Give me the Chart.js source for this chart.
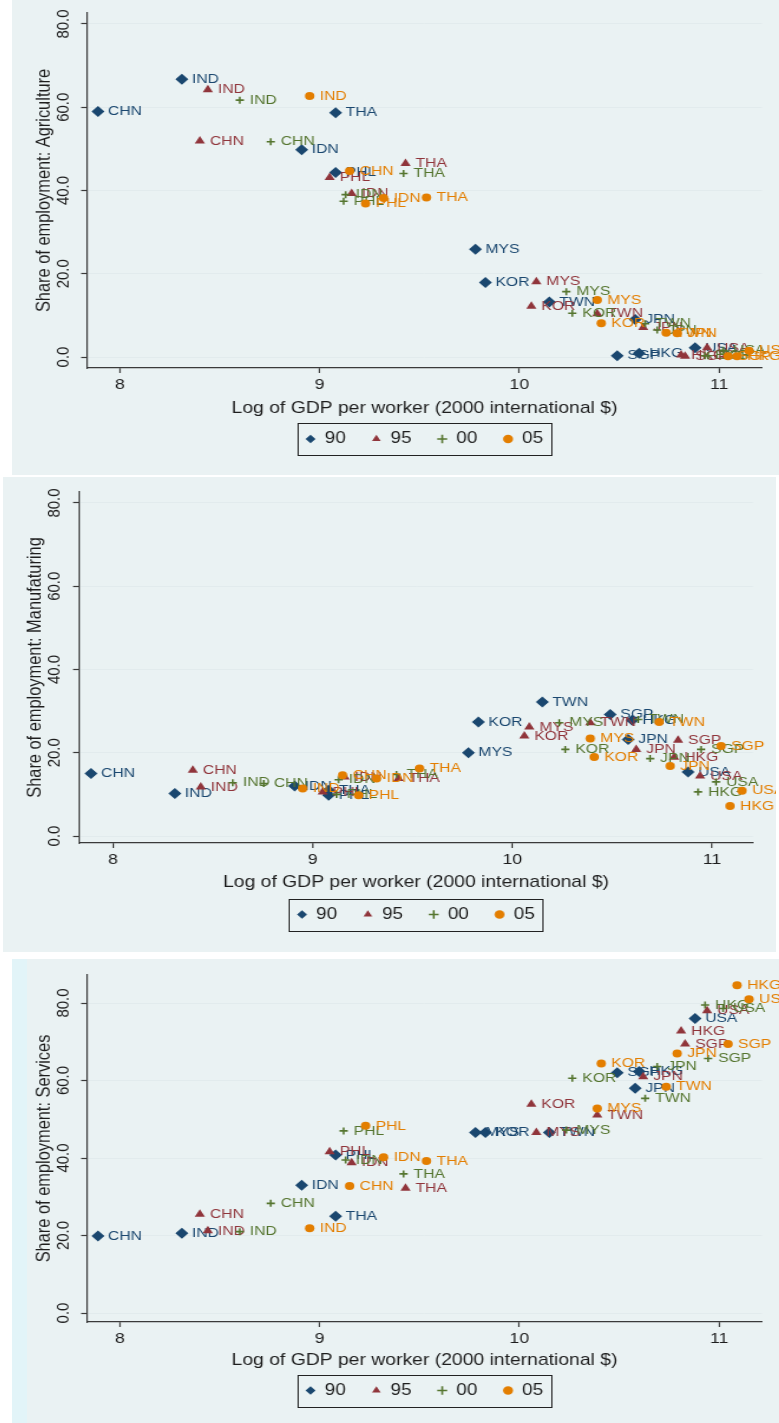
<!DOCTYPE html>
<html>
<head>
<meta charset="utf-8">
<script src="https://cdn.jsdelivr.net/npm/chart.js@4.4.1/dist/chart.umd.min.js"></script>
<style>
  html, body { margin: 0; padding: 0; background: #ffffff; }
  body { width: 779px; height: 1423px; position: relative; overflow: hidden; }
  .panel { position: absolute; background: #eaf2f3; }
  .panel canvas { position: absolute; left: 0; top: 0; }
  .strip { position: absolute; background: #e2f4f8; }
</style>
</head>
<body>
<div class="panel" id="p1"><canvas id="c1"></canvas></div>
<div class="panel" id="p2"><canvas id="c2"></canvas></div>
<div class="panel" id="p3"><div class="strip" style="left:0;top:0;width:15px;height:100%"></div><canvas id="c3"></canvas></div>

<script>
// Countries, same order in every series below
const countries = ['CHN', 'IND', 'IDN', 'PHL', 'THA', 'MYS', 'KOR', 'TWN', 'JPN', 'SGP', 'HKG', 'USA'];
const years = ['90', '95', '00', '05'];

// Log of GDP per worker (2000 international $)
const gdp90 = [7.89, 8.31, 8.91, 9.08, 9.08, 9.78, 9.83, 10.15, 10.58, 10.49, 10.60, 10.88];
const gdp95 = [8.40, 8.44, 9.16, 9.05, 9.43, 10.085, 10.06, 10.39, 10.62, 10.83, 10.81, 10.94];
const gdp00 = [8.755, 8.60, 9.13, 9.12, 9.42, 10.235, 10.265, 10.63, 10.69, 10.945, 10.93, 11.02];
const gdp05 = [9.15, 8.95, 9.32, 9.23, 9.535, 10.39, 10.41, 10.735, 10.79, 11.045, 11.09, 11.15];

// Share of employment: agriculture (%)
const agri90 = [59.0, 66.7, 49.8, 44.3, 58.7, 25.9, 17.9, 13.2, 9.0, 0.3, 0.9, 2.2];
const agri95 = [51.9, 64.2, 39.3, 43.1, 46.5, 18.1, 12.2, 10.4, 7.1, 0.2, 0.5, 2.2];
const agri00 = [51.7, 61.7, 39.0, 37.4, 44.1, 15.7, 10.5, 8.0, 6.5, 0.3, 0.3, 1.6];
const agri05 = [44.7, 62.7, 38.2, 36.9, 38.3, 13.7, 8.1, 5.8, 5.7, 0.2, 0.2, 1.5];

// Share of employment: manufacturing (%)
const manu90 = [15.0, 10.2, 12.0, 9.8, 11.0, 20.0, 27.4, 32.2, 23.2, 29.2, 27.8, 15.4];
const manu95 = [15.8, 11.8, 14.2, 10.6, 13.8, 26.2, 24.0, 27.2, 20.8, 23.0, 18.9, 14.4];
const manu00 = [12.6, 12.8, 13.5, 10.0, 14.8, 27.2, 20.8, 28.0, 18.6, 20.8, 10.6, 13.0];
const manu05 = [14.6, 11.4, 13.8, 9.8, 16.2, 23.4, 19.0, 27.4, 16.8, 21.6, 7.2, 10.9];

// Share of employment: services (%)
const serv90 = [19.9, 20.6, 33.0, 40.8, 25.0, 46.6, 46.6, 46.6, 58.0, 62.0, 62.3, 76.0];
const serv95 = [25.5, 21.2, 38.8, 41.6, 32.2, 46.6, 53.9, 51.1, 61.0, 69.4, 72.8, 78.0];
const serv00 = [28.3, 21.0, 39.5, 47.0, 35.9, 47.2, 60.6, 55.4, 63.6, 65.7, 79.5, 78.6];
const serv05 = [32.8, 21.9, 40.2, 48.3, 39.2, 52.8, 64.4, 58.4, 67.0, 69.4, 84.6, 81.0];

const xTicks = [8, 9, 10, 11];
const yTicks = [0, 20, 40, 60, 80];
const xTitle = 'Log of GDP per worker (2000 international $)';

// ---- look and layout ----
const K = 1.18;                 // panels are drawn narrow and widened by this factor
const FONT = "'Liberation Sans', Arial, Helvetica, sans-serif";
const TEXT = '#1e1e1e';
const AXIS = '#3a3a3a';
const GRID = '#e2ebed';
const TICK_SIZE = 15, TITLE_SIZE = 16.4, LABEL_SIZE = 13.3, LABEL_GAP = 8.5;
const LEG_FONT = 16, LEG_PAD = 22;

const seriesStyle = [
  { color: '#1a476f', pointStyle: 'rectRot',  radius: 5.5, border: 0,   order: 3 },
  { color: '#90353b', pointStyle: 'triangle', radius: 5,   border: 0,   order: 2 },
  { color: '#55752f', pointStyle: 'cross',    radius: 3.5, border: 1.6, order: 1 },
  { color: '#e37e00', pointStyle: 'circle',   radius: 4,   border: 0,   order: 0 }
];

Chart.defaults.font.family = FONT;
Chart.defaults.color = TEXT;

// country code written to the right of every marker
const pointLabels = {
  id: 'pointLabels',
  afterDatasetDraw(chart, args) {
    const ds = chart.data.datasets[args.index];
    const ctx = chart.ctx;
    ctx.save();
    ctx.font = LABEL_SIZE + 'px ' + FONT;
    ctx.fillStyle = ds.borderColor;
    ctx.textAlign = 'left';
    ctx.textBaseline = 'middle';
    args.meta.data.forEach((pt, j) => {
      ctx.fillText(ds.codes[j], pt.x + LABEL_GAP, pt.y);
    });
    ctx.restore();
  }
};

// vertical y tick labels (0.0 ... 80.0)
const yTickLabels = {
  id: 'yTickLabels',
  afterDraw(chart, args, opts) {
    const s = chart.scales.y;
    const ctx = chart.ctx;
    ctx.save();
    ctx.font = TICK_SIZE + 'px ' + FONT;
    ctx.fillStyle = TEXT;
    ctx.textAlign = 'center';
    ctx.textBaseline = 'middle';
    s.ticks.forEach(t => {
      ctx.save();
      ctx.translate(opts.x, s.getPixelForValue(t.value));
      ctx.rotate(-Math.PI / 2);
      ctx.fillText(t.value.toFixed(1), 0, 0);
      ctx.restore();
    });
    ctx.restore();
  }
};

// black frame around the legend keys
const legendFrame = {
  id: 'legendFrame',
  afterDraw(chart, args, opts) {
    const boxes = chart.legend && chart.legend.legendHitBoxes;
    if (!boxes || !boxes.length) return;
    const l = Math.min(...boxes.map(b => b.left)) - opts.padX;
    const r = Math.max(...boxes.map(b => b.left + b.width)) + opts.padX;
    const t = boxes[0].top - opts.padY;
    const b = boxes[0].top + boxes[0].height + opts.padY;
    const ctx = chart.ctx;
    ctx.save();
    ctx.strokeStyle = '#222';
    ctx.lineWidth = 1;
    ctx.strokeRect(Math.round(l) + 0.5, Math.round(t) + 0.5, Math.round(r - l), Math.round(b - t));
    ctx.restore();
  }
};

function makePanel(p) {
  const wrap = document.getElementById(p.wrap);
  Object.assign(wrap.style, { left: p.box.x + 'px', top: p.box.y + 'px', width: p.box.w + 'px', height: p.box.h + 'px' });
  const cv = document.getElementById(p.canvas);
  const intW = Math.round(p.box.w / K);
  const k = p.box.w / intW;
  cv.width = intW;
  cv.height = p.box.h;
  cv.style.width = p.box.w + 'px';
  cv.style.height = p.box.h + 'px';

  const left = (p.plot.l - p.box.x) / k;
  const right = (p.plot.r - p.box.x) / k;
  const top = p.plot.t - p.box.y;
  const bottom = p.plot.b - p.box.y;
  const xH = p.legendCenter - (LEG_PAD + LEG_FONT / 2);
  const legH = LEG_FONT + LEG_PAD + 10;
  const padBottom = p.box.h - bottom - xH - legH;
  const titleLH = TITLE_SIZE * 1.2;

  const datasets = years.map((yr, i) => {
    const st = seriesStyle[i];
    return {
      label: yr,
      codes: countries,
      data: p.xs[i].map((gx, j) => ({ x: gx, y: p.ys[i][j] })),
      order: st.order,
      pointStyle: st.pointStyle,
      pointRadius: st.radius,
      pointBackgroundColor: st.color,
      pointBorderColor: st.color,
      pointBorderWidth: st.border,
      backgroundColor: st.color,
      borderColor: st.color,
      borderWidth: st.border,
      showLine: false
    };
  });

  return new Chart(cv, {
    type: 'scatter',
    data: { datasets },
    options: {
      responsive: false,
      animation: false,
      events: [],
      devicePixelRatio: 1,
      layout: { padding: { left: 0, top: top, right: intW - right, bottom: padBottom } },
      scales: {
        x: {
          type: 'linear', position: 'bottom', min: p.xMin, max: p.xMax,
          afterBuildTicks: s => { s.ticks = xTicks.map(v => ({ value: v })); },
          afterFit: s => { s.height = xH; },
          ticks: { font: { size: TICK_SIZE }, color: TEXT, padding: 3, maxRotation: 0, autoSkip: false },
          grid: { display: true, drawOnChartArea: false, drawTicks: true, tickLength: 5, tickColor: AXIS, tickWidth: 1.2 },
          border: { display: true, color: AXIS, width: 1.2 },
          title: {
            display: true, text: xTitle, color: TEXT, font: { size: TITLE_SIZE },
            padding: { top: 0, bottom: xH - p.titleOffset - titleLH / 2 }
          }
        },
        y: {
          type: 'linear', position: 'left', min: p.yMin, max: p.yMax,
          afterBuildTicks: s => { s.ticks = yTicks.map(v => ({ value: v })); },
          afterFit: s => { s.width = left; },
          ticks: { display: false },
          grid: { color: GRID, lineWidth: 1, drawTicks: true, tickLength: 5, tickColor: AXIS, tickWidth: 1.2 },
          border: { display: true, color: AXIS, width: 1.2 },
          title: {
            display: true, text: p.yTitle, color: TEXT, font: { size: TITLE_SIZE },
            padding: { top: 27 - titleLH / 2, bottom: 0 }
          }
        }
      },
      plugins: {
        legend: {
          position: 'bottom', fullSize: false, align: 'center',
          labels: {
            usePointStyle: true, boxWidth: 8, boxHeight: 6, padding: LEG_PAD,
            color: TEXT, font: { size: LEG_FONT },
            sort: (a, b) => a.datasetIndex - b.datasetIndex
          }
        },
        tooltip: { enabled: false },
        yTickLabels: { x: 44 },
        legendFrame: { padX: 7, padY: 8 }
      }
    },
    plugins: [pointLabels, yTickLabels, legendFrame]
  });
}

const gdpAll = [gdp90, gdp95, gdp00, gdp05];

makePanel({
  wrap: 'p1', canvas: 'c1',
  box: { x: 12, y: 0, w: 767, h: 475 },
  plot: { l: 87, r: 762, t: 13, b: 368 },
  xMin: 7.835, xMax: 11.215, yMin: -2.64, yMax: 82.64,
  legendCenter: 71, titleOffset: 40,
  yTitle: 'Share of employment: Agriculture',
  xs: gdpAll, ys: [agri90, agri95, agri00, agri05]
});

makePanel({
  wrap: 'p2', canvas: 'c2',
  box: { x: 3, y: 477, w: 773, h: 475 },
  plot: { l: 79, r: 753, t: 492, b: 843 },
  xMin: 7.83, xMax: 11.205, yMin: -1.68, yMax: 82.64,
  legendCenter: 71.5, titleOffset: 39,
  yTitle: 'Share of employment: Manufaturing',
  xs: gdpAll, ys: [manu90, manu95, manu00, manu05]
});

makePanel({
  wrap: 'p3', canvas: 'c3',
  box: { x: 12, y: 959, w: 767, h: 464 },
  plot: { l: 87, r: 762, t: 975, b: 1322 },
  xMin: 7.835, xMax: 11.215, yMin: -2.32, yMax: 87.23,
  legendCenter: 68.5, titleOffset: 38,
  yTitle: 'Share of employment: Services',
  xs: gdpAll, ys: [serv90, serv95, serv00, serv05]
});
</script>
</body>
</html>
